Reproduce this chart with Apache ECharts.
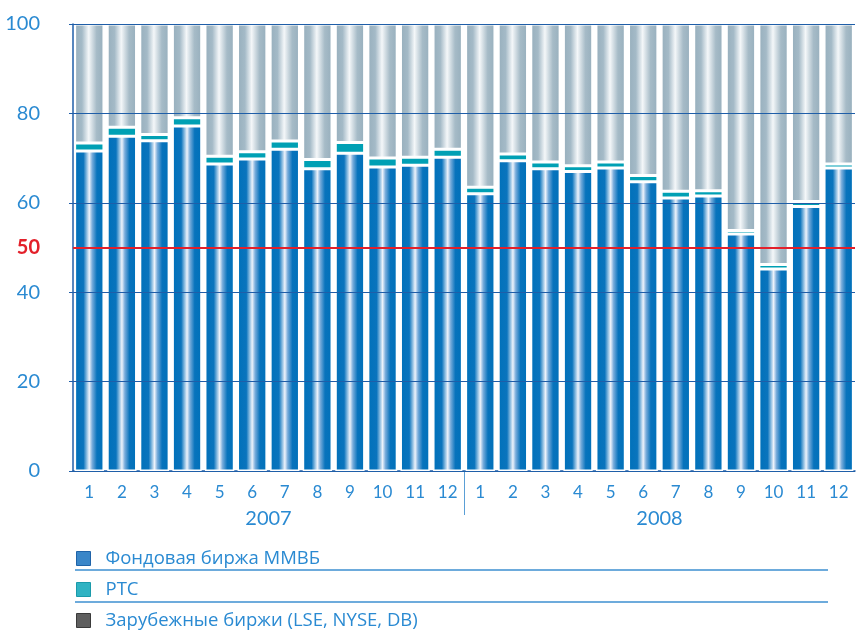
<!DOCTYPE html>
<html>
<head>
<meta charset="utf-8">
<script src="https://cdn.jsdelivr.net/npm/echarts@6/dist/echarts.min.js"></script>
<style>
    html, body {margin:0;padding:0;background:#fff}
    #chart {width:861px;height:630px}
</style>
</head>
<body>
<div id="chart"></div>
<script>
    // месяцы 2007 и 2008
    var months = ['1','2','3','4','5','6','7','8','9','10','11','12',
                  '1','2','3','4','5','6','7','8','9','10','11','12'];
    var years = ['2007', '2008'];

    // доли, %
    var mmvb = [71.6,74.9,73.9,77.2,68.7,69.8,72.0,67.6,71.1,68.0,68.4,70.2,
                62.0,69.4,67.6,67.0,67.8,64.7,61.1,61.5,53.0,45.2,59.2,67.8];
    var rts = [1.8,2.0,1.4,1.8,1.7,1.6,1.8,2.1,2.4,2.0,1.8,1.8,
               1.5,1.5,1.5,1.3,1.3,1.4,1.5,1.2,0.8,1.0,1.1,0.9];
    var foreign = [26.6,23.1,24.7,21.0,29.6,28.6,26.2,30.3,26.5,30.0,29.8,28.0,
                   36.5,29.1,30.9,31.7,30.9,33.9,37.4,37.3,46.2,53.8,39.7,31.3];

    var names = ['Фондовая биржа ММВБ', 'РТС', 'Зарубежные биржи (LSE, NYSE, DB)'];

    var labelColor = '#2a8ad2';
    var axisBlue = '#1f5ea8';
    var fontLat = 'Lato, "Open Sans", sans-serif';
    var fontCyr = '"Open Sans", "Noto Sans", sans-serif';

    function hGrad(stops) {
        return new echarts.graphic.LinearGradient(0, 0, 1, 0, stops);
    }
    var blueFill = hGrad([
        {offset: 0, color: '#0071ba'},
        {offset: 0.3, color: '#0a74bd'},
        {offset: 0.5, color: '#eef3fb'},
        {offset: 0.6, color: '#78acdb'},
        {offset: 0.76, color: '#0873bc'},
        {offset: 1, color: '#0071ba'}
    ]);
    var grayFill = hGrad([
        {offset: 0, color: '#97afbd'},
        {offset: 0.25, color: '#a4bac7'},
        {offset: 0.48, color: '#f4f7f9'},
        {offset: 0.75, color: '#a6bbc7'},
        {offset: 1, color: '#97afbd'}
    ]);

    var chart = echarts.init(document.getElementById('chart'));
    var option = {
        animation: false,
        legend: {
            orient: 'vertical',
            left: 76,
            top: 549,
            padding: 0,
            height: 90,
            icon: 'rect',
            itemWidth: 14,
            itemHeight: 14,
            itemGap: 12,
            selectedMode: false,
            textStyle: {color: labelColor, fontSize: 18.5, fontFamily: fontCyr, lineHeight: 19, padding: [0, 0, 0, 10]},
            data: [
                {name: names[0], itemStyle: {color: '#3a86c8', borderColor: '#1f63a8', borderWidth: 1}},
                {name: names[1], itemStyle: {color: '#30b3c3', borderColor: '#1a9aaa', borderWidth: 1}},
                {name: names[2], itemStyle: {color: '#5f5f5f', borderColor: '#3a3a3a', borderWidth: 1}}
            ]
        },
        grid: [
            {left: 73, right: 6, top: 24, bottom: 159},
            {left: 73, right: 6, top: 471, height: 44}
        ],
        xAxis: [
            {
                type: 'category',
                gridIndex: 0,
                data: months,
                axisLine: {lineStyle: {color: axisBlue, width: 1.5}},
                axisTick: {length: 6, lineStyle: {color: axisBlue}},
                axisLabel: {color: labelColor, fontSize: 17, fontFamily: fontLat, margin: 13}
            },
            {
                type: 'category',
                gridIndex: 1,
                data: years,
                axisLine: {show: false},
                axisTick: {show: false},
                axisLabel: {color: labelColor, fontSize: 20, fontFamily: fontLat, margin: -6},
                splitLine: {show: true, showMinLine: false, showMaxLine: false, lineStyle: {color: '#5a9fd6', width: 1}}
            }
        ],
        yAxis: [
            {
                type: 'value',
                gridIndex: 0,
                min: 0,
                max: 100,
                interval: 20,
                z: 10,
                axisLine: {show: true, lineStyle: {color: axisBlue, width: 1.5}},
                axisTick: {show: true, length: 4, lineStyle: {color: axisBlue}},
                axisLabel: {color: labelColor, fontSize: 20, fontFamily: fontLat, margin: 33},
                splitLine: {lineStyle: {color: axisBlue, width: 1}}
            },
            {
                type: 'value',
                gridIndex: 0,
                position: 'left',
                offset: 0,
                min: 0,
                max: 100,
                interval: 50,
                z: 11,
                axisLine: {show: false},
                axisTick: {show: false},
                axisLabel: {
                    color: '#e3202a', fontSize: 20, fontFamily: fontLat, fontWeight: 'bold', margin: 33,
                    formatter: function (v) { return v === 50 ? '50' : ''; }
                },
                splitLine: {show: true, showMinLine: false, showMaxLine: false, lineStyle: {color: '#e3202a', width: 2}}
            },
            {
                type: 'value',
                gridIndex: 1,
                min: 0,
                max: 1,
                show: false
            }
        ],
        series: [
            {
                name: names[0],
                type: 'bar',
                stack: 'all',
                barCategoryGap: '10%',
                data: mmvb,
                itemStyle: {color: blueFill, borderColor: '#ffffff', borderWidth: 1.5}
            },
            {
                name: names[1],
                type: 'bar',
                stack: 'all',
                data: rts,
                itemStyle: {color: '#00a0b4', borderColor: '#ffffff', borderWidth: 1.5}
            },
            {
                name: names[2],
                type: 'bar',
                stack: 'all',
                data: foreign,
                itemStyle: {color: grayFill, borderColor: '#ffffff', borderWidth: 1.5}
            }
        ],
        graphic: [
            {type: 'line', shape: {x1: 75, y1: 570, x2: 828, y2: 570}, style: {stroke: '#3d8fd0', lineWidth: 1.5}},
            {type: 'line', shape: {x1: 75, y1: 602, x2: 828, y2: 602}, style: {stroke: '#3d8fd0', lineWidth: 1.5}}
        ]
    };
    chart.setOption(option);
</script>
</body>
</html>
